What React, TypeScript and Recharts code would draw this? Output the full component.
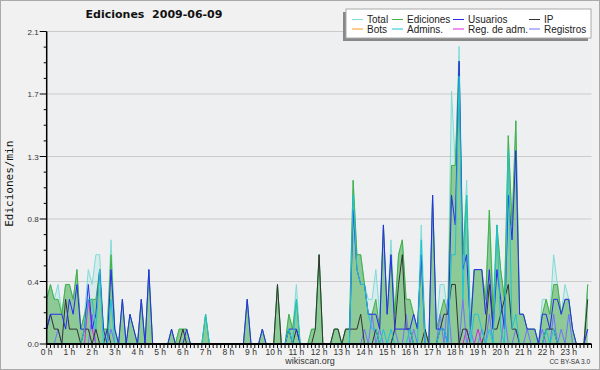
import React from 'react';
import { ComposedChart, Area, Line, XAxis, YAxis, CartesianGrid, Label } from 'recharts';

// 10-minute buckets, 6 per hour, values in edits/min
const hourLabels = ['0 h', '1 h', '2 h', '3 h', '4 h', '5 h', '6 h', '7 h', '8 h', '9 h', '10 h', '11 h',
  '12 h', '13 h', '14 h', '15 h', '16 h', '17 h', '18 h', '19 h', '20 h', '21 h', '22 h', '23 h'];

const total = [
  0.3, 0.4, 0.3, 0.4, 0.2, 0.4,
  0.4, 0.3, 0.5, 0.1, 0.2, 0.5,
  0.4, 0.6, 0.6, 0.1, 0.1, 0.7,
  0.1, 0, 0.3, 0, 0.2, 0.1,
  0, 0.3, 0, 0.5, 0, 0,
  0, 0, 0, 0.1, 0, 0.1,
  0.1, 0.1, 0, 0, 0, 0,
  0.2, 0, 0, 0, 0, 0,
  0, 0, 0, 0, 0, 0.3,
  0, 0, 0, 0.1, 0, 0,
  0, 0.4, 0, 0, 0.2, 0.1,
  0.4, 0, 0, 0, 0.1, 0.1,
  0.6, 0, 0, 0, 0.1, 0.1,
  0, 0.1, 0.1, 1.1, 0.6, 0.6,
  0.4, 0.3, 0.3, 0.5, 0.2, 0.8,
  0.2, 0.7, 0.2, 0.6, 0.7, 0.3,
  0.3, 0.2, 0.1, 0.8, 0.1, 0,
  1.0, 0.1, 0.4, 0.4, 0.2, 1.7,
  1.2, 2.0, 0.6, 1.1, 0.2, 0.5,
  0.5, 0.5, 0.3, 0.9, 0.3, 0.8,
  0.5, 0.3, 1.4, 0.8, 1.5, 0.2,
  0.2, 0.1, 0.1, 0.1, 0, 0.3,
  0.3, 0.2, 0.6, 0.4, 0.2, 0.4,
  0.3, 0.1, 0, 0, 0, 0.4,
];

const ediciones = [
  0.3, 0.4, 0.3, 0.3, 0.2, 0.4,
  0.4, 0.3, 0.5, 0.1, 0.2, 0.3,
  0.3, 0.3, 0.5, 0.1, 0.1, 0.6,
  0.1, 0, 0.3, 0, 0.2, 0.1,
  0, 0.3, 0, 0.5, 0, 0,
  0, 0, 0, 0.1, 0, 0.1,
  0.1, 0.1, 0, 0, 0, 0,
  0.2, 0, 0, 0, 0, 0,
  0, 0, 0, 0, 0, 0.3,
  0, 0, 0, 0.1, 0, 0,
  0, 0.4, 0, 0, 0.2, 0.1,
  0.3, 0, 0, 0, 0.1, 0.1,
  0.6, 0, 0, 0, 0.1, 0.1,
  0, 0.1, 0.1, 1.1, 0.6, 0.6,
  0.4, 0.2, 0.2, 0.3, 0.1, 0.8,
  0.2, 0.6, 0.2, 0.6, 0.7, 0.3,
  0.3, 0.2, 0.1, 0.6, 0.1, 0,
  1.0, 0.1, 0.2, 0.3, 0.2, 1.2,
  1.2, 1.9, 0.6, 1.0, 0.1, 0.5,
  0.5, 0.5, 0.3, 0.9, 0.2, 0.8,
  0.5, 0.3, 1.4, 0.8, 1.5, 0.2,
  0.2, 0.1, 0.1, 0.1, 0, 0.2,
  0.3, 0.2, 0.4, 0.4, 0.2, 0.3,
  0.3, 0.1, 0, 0, 0, 0.4,
];

const usuarios = [
  0.1, 0.2, 0.2, 0.2, 0.2, 0.1,
  0.3, 0.2, 0.4, 0.1, 0.1, 0.4,
  0.1, 0.2, 0.5, 0.1, 0, 0.5,
  0.1, 0, 0.3, 0, 0.2, 0.1,
  0, 0.3, 0, 0.5, 0, 0,
  0, 0, 0, 0.1, 0, 0,
  0, 0.1, 0, 0, 0, 0,
  0, 0, 0, 0, 0, 0,
  0, 0, 0, 0, 0, 0.3,
  0, 0, 0, 0.1, 0, 0,
  0, 0, 0, 0, 0.1, 0.1,
  0.1, 0, 0, 0, 0, 0,
  0, 0, 0, 0, 0, 0,
  0, 0, 0, 0.9, 0.5, 0.4,
  0.4, 0.2, 0.2, 0.2, 0.1, 0.8,
  0.2, 0.6, 0.1, 0.1, 0.1, 0.1,
  0.1, 0.2, 0.1, 0.6, 0, 0,
  1.0, 0.1, 0.1, 0.1, 0, 1.0,
  0.8, 1.9, 0.5, 0.6, 0.1, 0.5,
  0.5, 0.5, 0.2, 0.5, 0.1, 0.5,
  0.3, 0.1, 1.0, 0.7, 1.3, 0.2,
  0.2, 0.1, 0.1, 0.1, 0, 0.2,
  0.2, 0.1, 0.3, 0.3, 0.2, 0.3,
  0.3, 0.1, 0, 0, 0, 0.1,
];

const ip = [
  0.1, 0.2, 0.1, 0.1, 0, 0.3,
  0.1, 0.1, 0.1, 0, 0.1, 0.1,
  0, 0.1, 0, 0, 0.1, 0,
  0, 0, 0, 0, 0, 0,
  0, 0, 0, 0, 0, 0,
  0, 0, 0, 0, 0, 0,
  0.1, 0, 0, 0, 0, 0,
  0, 0, 0, 0, 0, 0,
  0, 0, 0, 0, 0, 0,
  0, 0, 0, 0, 0, 0,
  0, 0.4, 0, 0, 0.1, 0,
  0.1, 0, 0, 0, 0, 0.1,
  0.6, 0, 0, 0, 0.1, 0.1,
  0, 0.1, 0.1, 0.1, 0.1, 0.2,
  0, 0, 0, 0.1, 0, 0,
  0, 0, 0.1, 0.4, 0.6, 0.1,
  0.1, 0, 0, 0, 0.1, 0,
  0, 0, 0.1, 0.2, 0.2, 0.4,
  0.4, 0, 0.1, 0.1, 0, 0,
  0, 0, 0.1, 0.4, 0.1, 0.1,
  0.2, 0.3, 0.4, 0.1, 0.1, 0,
  0, 0, 0, 0, 0, 0,
  0.1, 0.1, 0.1, 0, 0, 0,
  0, 0, 0, 0, 0, 0.3,
];

const bots = [
  0, 0, 0, 0, 0, 0, 0, 0, 0, 0, 0, 0, 0, 0, 0, 0, 0, 0, 0, 0, 0, 0, 0, 0,
  0, 0, 0, 0, 0, 0, 0, 0, 0, 0, 0, 0, 0, 0, 0, 0, 0, 0, 0, 0, 0, 0, 0, 0,
  0, 0, 0, 0, 0, 0, 0, 0, 0, 0, 0, 0, 0, 0, 0, 0, 0, 0, 0, 0, 0, 0, 0, 0,
  0, 0, 0, 0, 0, 0, 0, 0, 0, 0, 0, 0, 0, 0, 0, 0, 0, 0, 0, 0, 0, 0, 0, 0,
  0, 0, 0, 0, 0, 0, 0, 0, 0, 0, 0, 0, 0, 0, 0, 0, 0, 0, 0, 0, 0, 0, 0, 0,
  0, 0, 0, 0, 0, 0, 0, 0, 0, 0, 0, 0, 0, 0, 0, 0, 0, 0, 0, 0, 0, 0, 0, 0,
];

const admins = [
  0, 0, 0, 0, 0, 0,
  0, 0, 0, 0, 0.1, 0.3,
  0.3, 0.1, 0.5, 0, 0, 0.3,
  0, 0, 0, 0, 0, 0,
  0, 0, 0, 0, 0, 0,
  0, 0, 0, 0, 0, 0,
  0, 0, 0, 0, 0, 0,
  0.2, 0, 0, 0, 0, 0,
  0, 0, 0, 0, 0, 0,
  0, 0, 0, 0, 0, 0,
  0, 0, 0, 0, 0.1, 0,
  0.3, 0, 0, 0, 0, 0,
  0, 0, 0, 0, 0, 0,
  0, 0, 0, 1.0, 0.5, 0.4,
  0.4, 0.2, 0.1, 0.1, 0, 0.1,
  0, 0.1, 0, 0, 0, 0,
  0.1, 0, 0, 0.7, 0, 0,
  0, 0, 0.1, 0.1, 0, 0.6,
  0.6, 1.8, 0.3, 1.0, 0, 0.2,
  0.2, 0.1, 0, 0.1, 0, 0.8,
  0.1, 0, 1.3, 0.1, 0.2, 0,
  0, 0, 0, 0, 0, 0,
  0.1, 0, 0.1, 0, 0, 0,
  0, 0, 0, 0, 0, 0,
];

const regAdm = [
  0, 0, 0, 0, 0, 0,
  0, 0, 0, 0, 0, 0.3,
  0.1, 0, 0, 0, 0, 0,
  0, 0, 0, 0, 0, 0,
  0, 0, 0, 0, 0, 0,
  0, 0, 0, 0, 0, 0,
  0, 0, 0, 0, 0, 0,
  0, 0, 0, 0, 0, 0,
  0, 0, 0, 0, 0, 0,
  0, 0, 0, 0, 0, 0,
  0, 0, 0, 0, 0, 0,
  0, 0, 0, 0, 0, 0,
  0, 0, 0, 0, 0, 0,
  0, 0, 0, 0, 0, 0,
  0, 0, 0, 0, 0, 0,
  0, 0, 0, 0, 0, 0,
  0, 0, 0, 0, 0, 0,
  0, 0, 0, 0, 0, 0,
  0, 0, 0, 0.1, 0, 0,
  0.1, 0, 0, 0, 0, 0,
  0, 0, 0, 0, 0, 0,
  0, 0, 0, 0, 0, 0,
  0, 0, 0, 0, 0, 0,
  0, 0, 0, 0, 0, 0,
];

const registros = [
  0, 0, 0, 0.1, 0, 0,
  0, 0, 0, 0, 0, 0,
  0.2, 0, 0, 0, 0, 0.1,
  0, 0, 0, 0, 0, 0,
  0, 0, 0, 0, 0, 0,
  0, 0, 0, 0, 0, 0,
  0, 0, 0, 0, 0, 0,
  0, 0, 0, 0, 0, 0,
  0, 0, 0, 0, 0, 0,
  0, 0, 0, 0, 0, 0,
  0, 0, 0, 0, 0, 0,
  0, 0, 0, 0, 0, 0,
  0, 0, 0, 0, 0, 0,
  0, 0, 0, 0, 0, 0,
  0.1, 0, 0.2, 0, 0.1, 0,
  0, 0, 0.1, 0, 0, 0.2,
  0, 0.1, 0, 0, 0, 0,
  0, 0, 0.2, 0, 0.3, 0,
  0, 0, 0.3, 0, 0.1, 0,
  0, 0.1, 0, 0.2, 0, 0,
  0, 0.2, 0, 0, 0.1, 0,
  0, 0.1, 0, 0, 0, 0.1,
  0, 0, 0.2, 0, 0.1, 0,
  0.2, 0, 0, 0, 0, 0.1,
];

const seriesNames = ['Total', 'Ediciones', 'Usuarios', 'IP', 'Bots', 'Admins.', 'Reg. de adm.', 'Registros'];
const seriesColors = ['#7edcd8', '#44b044', '#2a2af0', '#333333', '#ff9a1a', '#1ec4d6', '#e020e0', '#7272ff'];

const yTicks = [0, 0.105, 0.21, 0.315, 0.42, 0.525, 0.63, 0.735, 0.84, 0.945, 1.05,
  1.155, 1.26, 1.365, 1.47, 1.575, 1.68, 1.785, 1.89, 1.995, 2.1];
const yGrid = [0.42, 0.84, 1.26, 1.68, 2.1];
const xTicks = total.map((_, i) => i).concat([total.length]);

const data = total.map((t, i) => ({
  i,
  total: t,
  ediciones: ediciones[i],
  usuarios: usuarios[i],
  ip: ip[i],
  bots: bots[i],
  admins: admins[i],
  regAdm: regAdm[i],
  registros: registros[i],
}));

const XTick = (props: any) => {
  const { x, y, payload } = props;
  const v = payload.value;
  return (
    <g>
      <line x1={x} x2={x} y1={y} y2={y + 4} stroke="#000" />
      {v % 6 === 0 && v < 144 && (
        <text x={x} y={y + 11} textAnchor="middle" fontSize={8.5} fill="#333" fontFamily="Liberation Sans">
          {hourLabels[v / 6]}
        </text>
      )}
    </g>
  );
};

const YTick = (props: any) => {
  const { x, y, index, payload } = props;
  const major = index % 4 === 0;
  return (
    <g>
      <line x1={x - (major ? 7 : 3)} x2={x} y1={y} y2={y} stroke="#000" />
      {major && (
        <text x={x - 8} y={y + 3} textAnchor="end" fontSize={8} fill="#333" fontFamily="Liberation Sans">
          {payload.value.toFixed(1)}
        </text>
      )}
    </g>
  );
};

const YLabel = (props: any) => {
  const { viewBox } = props;
  const cy = viewBox.y + viewBox.height / 2 - 4;
  return (
    <text x={0} y={0} transform={`translate(13, ${cy}) rotate(-90)`} textAnchor="middle"
      fontFamily="DejaVu Sans Mono" fontSize={11} fill="#111">
      Ediciones/min
    </text>
  );
};

const lineX = [352, 392, 453, 529];
const rowY = [19.5, 29];

const ChartLegend = () => (
  <svg width={600} height={45} style={{ position: 'absolute', left: 0, top: 0 }}>
    <rect x={343} y={12} width={245} height={29} fill="#888" />
    <rect x={346} y={9} width={245} height={29} fill="#fff" stroke="#aaa" />
    {seriesNames.map((name, k) => {
      const lx = lineX[k % 4];
      const ly = rowY[Math.floor(k / 4)];
      return (
        <g key={name}>
          <line x1={lx} x2={lx + 11} y1={ly} y2={ly} stroke={seriesColors[k]} strokeWidth={1} />
          <text x={lx + 15} y={ly + 3.5} fontSize={10} fill="#222" fontFamily="Liberation Sans">{name}</text>
        </g>
      );
    })}
  </svg>
);

export default function App() {
  return (
    <div style={{ position: 'absolute', left: 0, top: 0, width: 600, height: 370, background: '#f1f1f1' }}>
      <ComposedChart width={600} height={370} data={data}
        margin={{ top: 31.5, right: 8.5, bottom: 0, left: 0 }}>
        <CartesianGrid vertical={false} horizontalValues={yGrid} stroke="#cbcbcb" fill="#eeeff1" />
        <XAxis dataKey="i" type="number" domain={[0, 144]} ticks={xTicks} interval={0} height={26}
          tick={<XTick />} tickSize={0} tickMargin={0} tickLine={false}
          axisLine={{ stroke: '#000', strokeWidth: 2 }} />
        <YAxis type="number" domain={[0, 2.1]} ticks={yTicks} interval={0} width={46.7}
          tick={<YTick />} tickSize={0} tickMargin={0} tickLine={false}
          axisLine={{ stroke: '#000', strokeWidth: 1.5 }}>
          <Label content={<YLabel />} />
        </YAxis>
        <Area type="linear" dataKey="total" stroke={seriesColors[0]} strokeWidth={1}
          fill={seriesColors[0]} fillOpacity={0.2} isAnimationActive={false} />
        <Area type="linear" dataKey="ediciones" stroke={seriesColors[1]} strokeWidth={1}
          fill="#44aa44" fillOpacity={0.5} isAnimationActive={false} />
        <Line type="linear" dataKey="bots" stroke={seriesColors[4]} strokeWidth={1} dot={false} isAnimationActive={false} />
        <Line type="linear" dataKey="regAdm" stroke={seriesColors[6]} strokeWidth={1} dot={false} isAnimationActive={false} />
        <Line type="linear" dataKey="registros" stroke={seriesColors[7]} strokeWidth={1} dot={false} isAnimationActive={false} />
        <Line type="linear" dataKey="ip" stroke={seriesColors[3]} strokeWidth={1} dot={false} isAnimationActive={false} />
        <Line type="linear" dataKey="usuarios" stroke={seriesColors[2]} strokeWidth={1} dot={false} isAnimationActive={false} />
        <Line type="linear" dataKey="admins" stroke={seriesColors[5]} strokeWidth={1} dot={false} isAnimationActive={false} />
      </ComposedChart>
      <ChartLegend />
      <div style={{ position: 'absolute', left: 0, top: 8, width: 308, textAlign: 'center',
        fontFamily: 'DejaVu Sans', fontWeight: 'bold', fontSize: 11, color: '#111' }}>
        Ediciones&nbsp;&nbsp;2009-06-09
      </div>
      <div style={{ position: 'absolute', left: 260, top: 356, width: 100, textAlign: 'center',
        fontFamily: 'Liberation Sans', fontSize: 9, color: '#333' }}>
        wikiscan.org
      </div>
      <div style={{ position: 'absolute', left: 540, top: 358, width: 50, textAlign: 'right',
        fontFamily: 'Liberation Sans', fontSize: 6.5, color: '#333' }}>
        CC BY-SA 3.0
      </div>
      <div style={{ position: 'absolute', left: 0, top: 0, width: 600, height: 370, boxSizing: 'border-box',
        border: '1px solid #aaa', pointerEvents: 'none' }} />
    </div>
  );
}
